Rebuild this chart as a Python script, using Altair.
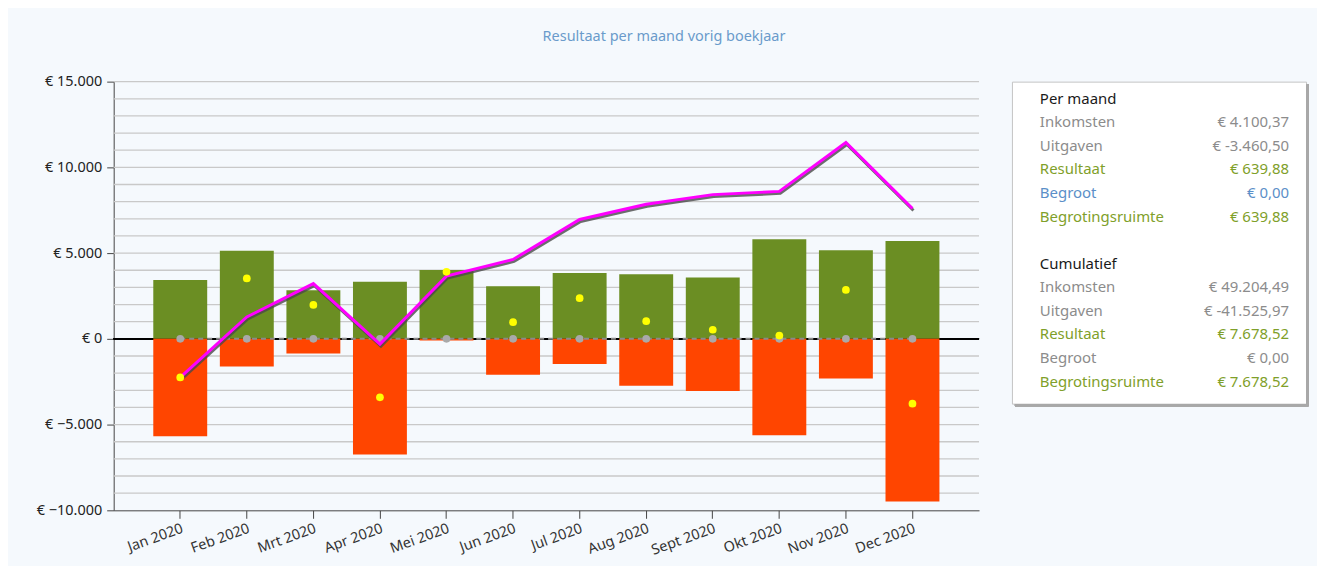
import altair as alt
import pandas as pd

months = ["Jan 2020", "Feb 2020", "Mrt 2020", "Apr 2020", "Mei 2020", "Jun 2020",
          "Jul 2020", "Aug 2020", "Sept 2020", "Okt 2020", "Nov 2020", "Dec 2020"]
inkomsten = [3430, 5130, 2830, 3330, 4010, 3060, 3840, 3760, 3570, 5810, 5160, 5700]
uitgaven = [-5680, -1610, -850, -6740, -100, -2090, -1470, -2730, -3040, -5620, -2310, -9480]
resultaat = [-2250, 3520, 1980, -3410, 3910, 970, 2370, 1030, 530, 190, 2850, -3780]
cumulatief = [-2250, 1280, 3220, -310, 3660, 4630, 6960, 7850, 8410, 8600, 11450, 7600]
begroot = [0] * 12

y_labels = [-10000, -5000, 0, 5000, 10000, 15000]
grid_levels = list(range(-9000, 15001, 1000))

panel_labels = ["Per maand", "Inkomsten", "Uitgaven", "Resultaat", "Begroot", "Begrotingsruimte",
                "Cumulatief", "Inkomsten", "Uitgaven", "Resultaat", "Begroot", "Begrotingsruimte"]
panel_values = ["", "€ 4.100,37", "€ -3.460,50", "€ 639,88", "€ 0,00", "€ 639,88",
                "", "€ 49.204,49", "€ -41.525,97", "€ 7.678,52", "€ 0,00", "€ 7.678,52"]
panel_rows = [0, 1, 2, 3, 4, 5, 7, 8, 9, 10, 11, 12]
panel_kind = ["kop", "neutraal", "neutraal", "resultaat", "begroot", "resultaat",
              "kop", "neutraal", "neutraal", "resultaat", "neutraal", "resultaat"]

FONT = "Noto Sans"
BG = "#F5F9FD"

df = pd.DataFrame({
    "maand": months,
    "inkomsten": inkomsten,
    "uitgaven": uitgaven,
    "resultaat": resultaat,
    "cumulatief": cumulatief,
    "begroot": begroot,
})
gdf = pd.DataFrame({"niveau": grid_levels})

xscale = alt.Scale(domain=months, paddingInner=0.19, paddingOuter=0.595, round=False)
x = alt.X("maand:N", scale=xscale, sort=months, title=None,
          axis=alt.Axis(labelAngle=-20, labelAlign="right", labelBaseline="top",
                        labelFontSize=14.5, labelColor="#333333", labelFont=FONT,
                        tickSize=8, tickColor="#444444", domainColor="#444444",
                        labelPadding=3, grid=False))

yscale = alt.Scale(domain=[-10000, 15000], nice=False, zero=False)
yaxis = alt.Axis(
    values=y_labels,
    labelExpr="'€ ' + replace(format(datum.value, ','), ',', '.')",
    labelFontSize=14.5, labelColor="#222222", labelFont=FONT, labelPadding=5,
    tickSize=7, tickColor="#444444", domainColor="#444444",
    grid=False, labelOverlap=False,
    minExtent=96, maxExtent=96, title=None,
)

grid = alt.Chart(gdf).mark_rule(color="#c9c9c9", strokeWidth=1.3).encode(
    y=alt.Y("niveau:Q", scale=yscale, axis=yaxis),
    x=alt.value(0), x2=alt.value(868),
)

base = alt.Chart(df)

zero_line = base.mark_rule(color="#000000", strokeWidth=1).encode(
    y=alt.Y("begroot:Q", scale=yscale),
    x=alt.value(0), x2=alt.value(868),
)

bars_in = base.mark_bar(color="#6B8E23").encode(
    x=x, y=alt.Y("inkomsten:Q", scale=yscale))
bars_out = base.mark_bar(color="#FF4500").encode(
    x=x, y=alt.Y("uitgaven:Q", scale=yscale))

begroot_line = base.mark_line(color="#8a8a8a", strokeDash=[5, 4], strokeWidth=2).encode(
    x=x, y=alt.Y("begroot:Q", scale=yscale))
begroot_pts = base.mark_circle(color="#A9A9A9", opacity=1, size=60).encode(
    x=x, y=alt.Y("begroot:Q", scale=yscale))

res_pts = base.mark_circle(color="#FFFF00", opacity=1, size=60).encode(
    x=x, y=alt.Y("resultaat:Q", scale=yscale))

shadow = base.mark_line(color="#4a4a4a", strokeWidth=3, yOffset=2, xOffset=1, opacity=0.8).encode(
    x=x, y=alt.Y("cumulatief:Q", scale=yscale))
cum_line = base.mark_line(color="#FF00FF", strokeWidth=3).encode(
    x=x, y=alt.Y("cumulatief:Q", scale=yscale))

main = alt.layer(
    grid, zero_line, bars_in, bars_out, begroot_line, begroot_pts, shadow, cum_line, res_pts
).properties(width=868, height=430)

pdf = pd.DataFrame({"label": panel_labels, "waarde": panel_values,
                    "rij": panel_rows, "soort": panel_kind})
pscale_y = alt.Scale(domain=[-0.718, 12.93], reverse=True, nice=False, zero=False)
color_scale = alt.Scale(domain=["kop", "neutraal", "resultaat", "begroot"],
                        range=["#1a1a1a", "#8c8c8c", "#7FA02A", "#5B8FC8"])
pbase = alt.Chart(pdf)
plabels = pbase.mark_text(align="left", baseline="middle", fontSize=15, font=FONT).encode(
    x=alt.value(28),
    y=alt.Y("rij:Q", scale=pscale_y, axis=None),
    text="label:N",
    color=alt.Color("soort:N", scale=color_scale, legend=None),
)
pvalues = pbase.mark_text(align="right", baseline="middle", fontSize=15, font=FONT).encode(
    x=alt.value(278),
    y=alt.Y("rij:Q", scale=pscale_y, axis=None),
    text="waarde:N",
    color=alt.Color("soort:N", scale=color_scale, legend=None),
)
shadow_right = pbase.mark_rule(color="#a8a8a8", strokeWidth=2).encode(
    x=alt.value(296.5), y=alt.value(3), y2=alt.value(325))
shadow_bottom = pbase.mark_rule(color="#a8a8a8", strokeWidth=2).encode(
    x=alt.value(3), x2=alt.value(297.5), y=alt.value(324.5))
panel = alt.layer(shadow_right, shadow_bottom, plabels, pvalues).properties(
    width=295, height=323,
    view=alt.ViewBackground(fill="#FFFFFF", stroke="#c4c4c4", strokeWidth=1),
)

chart = alt.hconcat(main, panel, spacing=33, bounds="flush").properties(
    title=alt.TitleParams("Resultaat per maand vorig boekjaar", anchor="middle",
                          color="#6A9BCB", fontSize=14.5, fontWeight="normal", font=FONT,
                          offset=29),
    background=BG,
    padding={"left": 10, "right": 7, "top": 20, "bottom": 8},
).configure_view(strokeWidth=0)

chart.save("out.html", embed_options={"renderer": "svg", "actions": False})
